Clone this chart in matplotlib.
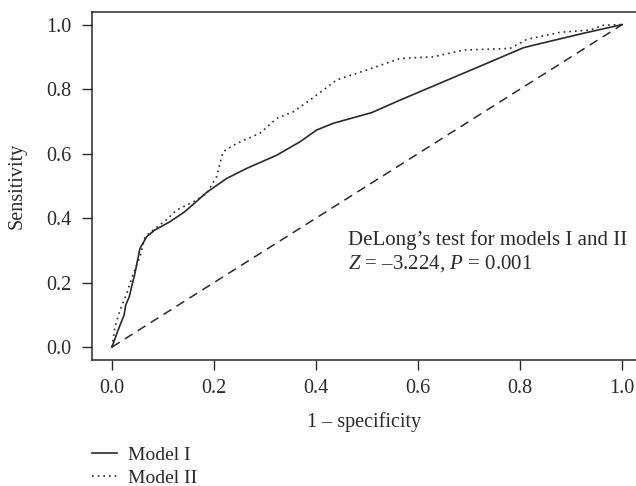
import matplotlib.pyplot as plt

plt.rcParams["font.family"] = ["Liberation Serif", "DejaVu Serif"]
plt.rcParams["mathtext.fontset"] = "custom"
plt.rcParams["mathtext.it"] = "Liberation Serif:italic"
plt.rcParams["mathtext.rm"] = "Liberation Serif"

# ROC curve points
model1_fpr = [0.0, 0.012, 0.024, 0.027, 0.034, 0.045, 0.055, 0.068, 0.084, 0.114,
              0.143, 0.186, 0.225, 0.264, 0.323, 0.369, 0.401, 0.434, 0.509, 0.565,
              0.65, 0.735, 0.806, 0.826, 0.924, 1.0]
model1_tpr = [0.0, 0.052, 0.10, 0.13, 0.156, 0.228, 0.306, 0.342, 0.363, 0.389,
              0.42, 0.48, 0.523, 0.554, 0.595, 0.637, 0.673, 0.694, 0.727, 0.766,
              0.823, 0.88, 0.928, 0.936, 0.973, 1.0]

model2_fpr = [0.0, 0.006, 0.016, 0.029, 0.042, 0.055, 0.065, 0.081, 0.107, 0.127,
              0.159, 0.186, 0.205, 0.212, 0.218, 0.245, 0.29, 0.323, 0.356, 0.388,
              0.414, 0.44, 0.499, 0.565, 0.63, 0.689, 0.78, 0.813, 0.878, 0.937,
              0.963, 1.0]
model2_tpr = [0.0, 0.063, 0.115, 0.166, 0.228, 0.28, 0.342, 0.363, 0.395, 0.425,
              0.45, 0.477, 0.528, 0.57, 0.606, 0.632, 0.663, 0.709, 0.73, 0.766,
              0.797, 0.828, 0.859, 0.895, 0.9, 0.921, 0.926, 0.954, 0.976, 0.983,
              0.998, 1.0]

ref_line = [0.0, 1.0]
ticks = [0.0, 0.2, 0.4, 0.6, 0.8, 1.0]
tick_labels = ["0.0", "0.2", "0.4", "0.6", "0.8", "1.0"]

ink = "#2a2a2a"
fs = 14.5

fig = plt.figure(figsize=(6.36, 4.86), dpi=100)
ax = fig.add_axes([92 / 636, 1 - 360 / 486, 1 - 92 / 636, (360 - 12) / 486])

l1, = ax.plot(model1_fpr, model1_tpr, color=ink, lw=1.2, label="Model I")
l2, = ax.plot(model2_fpr, model2_tpr, color=ink, lw=1.2,
              linestyle=(0, (1, 2.4)), label="Model II")
ax.plot(ref_line, ref_line, color=ink, lw=1.1, linestyle=(0, (6, 4)))

ax.set_xlim(-0.039, 1.027)
ax.set_ylim(-0.040, 1.039)
ax.set_xticks(ticks, tick_labels)
ax.set_yticks(ticks, tick_labels)
ax.tick_params(direction="out", length=7, width=1, color=ink,
               labelsize=fs, labelcolor=ink)
ax.tick_params(axis="y", pad=8)
ax.tick_params(axis="x", pad=7)
for s in ["top", "bottom", "left"]:
    ax.spines[s].set_color(ink)
    ax.spines[s].set_linewidth(1.1)
ax.spines["right"].set_visible(False)

ax.set_xlabel("1 – specificity", fontsize=fs, color=ink, labelpad=10)
ax.set_ylabel("Sensitivity", fontsize=fs, color=ink, labelpad=14)

ax.text(0.463, 0.318, "DeLong’s test for models I and II", fontsize=fs + 0.5,
        color=ink, va="baseline", ha="left")
ax.text(0.463, 0.244, "$Z$ = –3.224, $P$ = 0.001", fontsize=fs + 0.5,
        color=ink, va="baseline", ha="left")

fig.legend(handles=[l1, l2], loc="upper left",
           bbox_to_anchor=(92 / 636, 1 - 446 / 486), frameon=False,
           fontsize=14, handlelength=1.3, handletextpad=0.55,
           labelspacing=0.3, borderaxespad=0, borderpad=0,
           labelcolor=ink)

fig.savefig("out.png", dpi=100)
